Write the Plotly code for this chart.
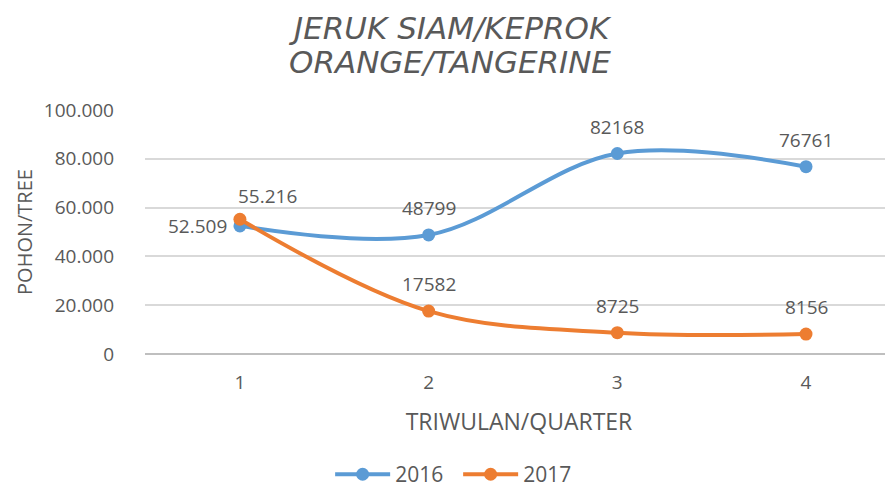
import plotly.graph_objects as go

quarters = [1, 2, 3, 4]
tick_labels = ["1", "2", "3", "4"]
y2016 = [52509, 48799, 82168, 76761]
y2017 = [55216, 17582, 8725, 8156]
lab2016 = ["52.509", "48799", "82168", "76761"]
lab2017 = ["55.216", "17582", "8725", "8156"]
yticks = [0, 20000, 40000, 60000, 80000, 100000]
ytick_text = ["0", "20.000", "40.000", "60.000", "80.000", "100.000"]
title_lines = ["JERUK SIAM/KEPROK", "ORANGE/TANGERINE"]

BLUE = "#5B9BD5"
ORANGE = "#ED7D31"
GREY = "#595959"
FONT = "Open Sans, Liberation Sans, sans-serif"

fig = go.Figure()
fig.add_trace(go.Scatter(x=quarters, y=y2016, name="2016", mode="lines+markers",
                         line=dict(color=BLUE, width=4, shape="spline", smoothing=1.0),
                         marker=dict(size=13, color=BLUE)))
fig.add_trace(go.Scatter(x=quarters, y=y2017, name="2017", mode="lines+markers",
                         line=dict(color=ORANGE, width=4, shape="spline", smoothing=1.0),
                         marker=dict(size=13, color=ORANGE)))

annots = []
for i, (x, y, t) in enumerate(zip(quarters, y2016, lab2016)):
    if i == 0:
        annots.append(dict(x=x, y=y, text=t, showarrow=False, xanchor="right", xshift=-11, yshift=0))
    else:
        annots.append(dict(x=x, y=y, text=t, showarrow=False, yshift=27))
for i, (x, y, t) in enumerate(zip(quarters, y2017, lab2017)):
    if i == 0:
        annots.append(dict(x=x, y=y, text=t, showarrow=False, xanchor="left", xshift=-4, yshift=23))
    else:
        annots.append(dict(x=x, y=y, text=t, showarrow=False, yshift=27))
for a in annots:
    a["font"] = dict(family=FONT, size=19, color=GREY)

for ty, t in zip([1.336, 1.197], title_lines):
    annots.append(dict(xref="paper", yref="paper", x=0.408, y=ty, xanchor="center", yanchor="middle",
                       text=t, showarrow=False,
                       font=dict(family="DejaVu Sans, sans-serif", size=31, color=GREY, style="italic")))

fig.update_layout(
    width=885, height=483,
    paper_bgcolor="white", plot_bgcolor="white",
    margin=dict(l=137, r=0, t=102, b=137, autoexpand=False),
    xaxis=dict(range=[0.497, 4.461], tickvals=quarters, ticktext=tick_labels,
               showgrid=False, zeroline=False, showline=False, ticks="", automargin=False,
               tickfont=dict(family=FONT, size=19, color=GREY), ticklabelstandoff=15,
               title=dict(text="TRIWULAN/QUARTER", standoff=19,
                          font=dict(family=FONT, size=23, color=GREY))),
    yaxis=dict(range=[0, 100000], tickvals=yticks, ticktext=ytick_text,
               showgrid=True, gridcolor="#D9D9D9", gridwidth=1.5,
               zeroline=True, zerolinecolor="#BFBFBF", zerolinewidth=1.5,
               showline=False, ticks="", ticklabelstandoff=30, automargin=False,
               tickfont=dict(family=FONT, size=19, color=GREY),
               title=dict(text="POHON/TREE", standoff=5,
                          font=dict(family=FONT, size=20, color=GREY))),
    legend=dict(orientation="h", xref="container", yref="container", x=0.364, xanchor="left",
                y=0.034, yanchor="middle", itemwidth=55, entrywidth=58,
                font=dict(family=FONT, size=21, color=GREY)),
    annotations=annots,
    showlegend=True,
)

fig.write_html("out.html")
